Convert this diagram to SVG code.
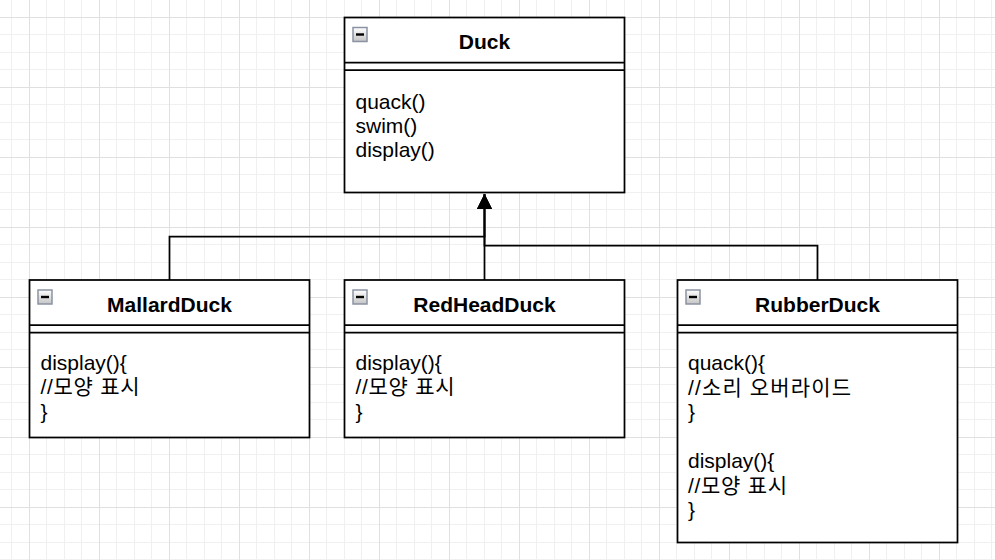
<svg xmlns="http://www.w3.org/2000/svg" width="995" height="560" viewBox="0 0 995 560">
  <style>
    .box { fill: #ffffff; stroke: #000000; stroke-width: 1.75; }
    .sep { fill: none; stroke: #000000; stroke-width: 1.75; }
    .title { font-family: "Liberation Sans", Arial, sans-serif; font-size: 21px; font-weight: bold; fill: #000000; text-anchor: middle; }
    .body { font-family: "Liberation Sans", Arial, "Noto Sans CJK KR", sans-serif; font-size: 21px; fill: #000000; }
    .edge { fill: none; stroke: #000000; stroke-width: 1.75; }
  </style>
  <defs>
    <pattern id="grid" x="29" y="17" width="70" height="70" patternUnits="userSpaceOnUse">
      <rect width="70" height="70" fill="#ffffff"/>
      <g stroke="#f0f0f0" stroke-width="1">
        <line x1="17.5" y1="0" x2="17.5" y2="70"/>
        <line x1="35.5" y1="0" x2="35.5" y2="70"/>
        <line x1="52.5" y1="0" x2="52.5" y2="70"/>
        <line x1="0" y1="17.5" x2="70" y2="17.5"/>
        <line x1="0" y1="35.5" x2="70" y2="35.5"/>
        <line x1="0" y1="52.5" x2="70" y2="52.5"/>
      </g>
      <g stroke="#e0e0e0" stroke-width="1">
        <line x1="0.5" y1="0" x2="0.5" y2="70"/>
        <line x1="0" y1="0.5" x2="70" y2="0.5"/>
      </g>
    </pattern>
    <linearGradient id="iconFill" x1="0" y1="0" x2="0" y2="1">
      <stop offset="0" stop-color="#ffffff"/>
      <stop offset="1" stop-color="#c4c4c4"/>
    </linearGradient>
    <g id="collapse">
      <rect x="0.5" y="0.5" width="14" height="14" fill="url(#iconFill)" stroke="#8a93a3" stroke-width="1.5"/>
      <rect x="3.5" y="6.3" width="8" height="2.4" fill="#000000"/>
    </g>
    <marker id="inherit" markerWidth="16" markerHeight="16" refX="15" refY="7.5" orient="auto" markerUnits="userSpaceOnUse">
      <path d="M0,0 L15,7.5 L0,15 Z" fill="#000000"/>
    </marker>
  </defs>

  <rect width="995" height="560" fill="url(#grid)"/>

  <!-- inheritance connectors -->
  <g id="connectors">
    <path class="edge" d="M169.5,280 V236.5 H484.5 V194" marker-end="url(#inherit)"/>
    <path class="edge" d="M484.5,280 V194" marker-end="url(#inherit)"/>
    <path class="edge" d="M817.5,280 V245.5 H484.5 V194" marker-end="url(#inherit)"/>
  </g>

  <!-- Duck -->
  <g id="duck">
    <rect class="box" x="344.5" y="17.5" width="280" height="175"/>
    <line class="sep" x1="344.5" y1="62.5" x2="624.5" y2="62.5"/>
    <line class="sep" x1="344.5" y1="70" x2="624.5" y2="70"/>
    <use href="#collapse" x="352.5" y="27"/>
    <text class="title" x="484.5" y="49">Duck</text>
    <text class="body" x="355.5" y="108.5">quack()</text>
    <text class="body" x="355.5" y="132.5">swim()</text>
    <text class="body" x="355.5" y="156.5">display()</text>
  </g>

  <!-- MallardDuck -->
  <g id="mallard-duck">
    <rect class="box" x="29.5" y="280" width="280" height="157.5"/>
    <line class="sep" x1="29.5" y1="325" x2="309.5" y2="325"/>
    <line class="sep" x1="29.5" y1="332.5" x2="309.5" y2="332.5"/>
    <use href="#collapse" x="37.5" y="289.5"/>
    <text class="title" x="169.5" y="311.5">MallardDuck</text>
    <text class="body" x="40.5" y="369.5">display(){</text>
    <text class="body" x="40.5" y="394" textLength="99" lengthAdjust="spacing">//모양 표시</text>
    <text class="body" x="40.5" y="418.5">}</text>
  </g>

  <!-- RedHeadDuck -->
  <g id="redhead-duck">
    <rect class="box" x="344.5" y="280" width="280" height="157.5"/>
    <line class="sep" x1="344.5" y1="325" x2="624.5" y2="325"/>
    <line class="sep" x1="344.5" y1="332.5" x2="624.5" y2="332.5"/>
    <use href="#collapse" x="352.5" y="289.5"/>
    <text class="title" x="484.5" y="311.5">RedHeadDuck</text>
    <text class="body" x="355.5" y="369.5">display(){</text>
    <text class="body" x="355.5" y="394" textLength="99" lengthAdjust="spacing">//모양 표시</text>
    <text class="body" x="355.5" y="418.5">}</text>
  </g>

  <!-- RubberDuck -->
  <g id="rubber-duck">
    <rect class="box" x="677.5" y="280" width="280" height="262.5"/>
    <line class="sep" x1="677.5" y1="325" x2="957.5" y2="325"/>
    <line class="sep" x1="677.5" y1="332.5" x2="957.5" y2="332.5"/>
    <use href="#collapse" x="685.5" y="289.5"/>
    <text class="title" x="817.5" y="311.5">RubberDuck</text>
    <text class="body" x="688" y="370">quack(){</text>
    <text class="body" x="688" y="394.5" textLength="163" lengthAdjust="spacing">//소리 오버라이드</text>
    <text class="body" x="688" y="419">}</text>
    <text class="body" x="688" y="468">display(){</text>
    <text class="body" x="688" y="492.5" textLength="99" lengthAdjust="spacing">//모양 표시</text>
    <text class="body" x="688" y="517">}</text>
  </g>
</svg>
